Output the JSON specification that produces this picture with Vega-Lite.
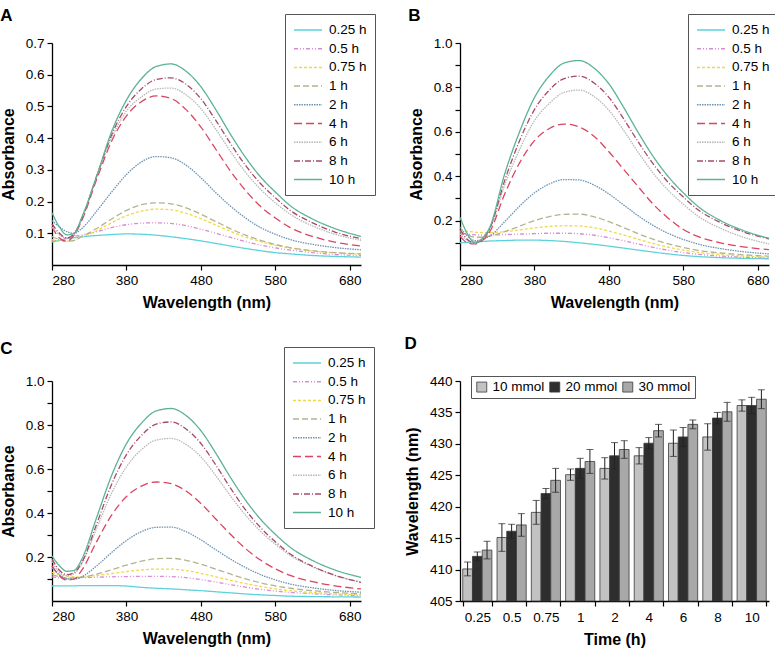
{
"$schema":"https://vega.github.io/schema/vega-lite/v6.json",
"padding":{"left":0,"top":6,"right":4,"bottom":0},
"config":{
"font":"Liberation Sans",
"view":{"stroke":null},
"axis":{"domainColor":"#000","tickColor":"#000","labelColor":"#000","titleColor":"#000","labelFontSize":13.5,"titleFontSize":16,"titleFontWeight":"bold","grid":false,"tickSize":5,"domainWidth":1.3,"tickWidth":1.2,"labelPadding":3,"labelOverlap":false},
"axisY":{"titlePadding":9},
"axisX":{"titlePadding":8},
"legend":{"labelFontSize":13.5,"labelColor":"#000","strokeColor":"#555","fillColor":"#fff","padding":8,"rowPadding":3.7,"labelOffset":6},
"title":{"fontSize":17,"fontWeight":"bold","anchor":"start","frame":"bounds","color":"#000","offset":-11}
},
"datasets":{
"A":[
{"s":"0.25 h","w":280,"a":0.072},{"s":"0.25 h","w":290,"a":0.078},{"s":"0.25 h","w":300,"a":0.083},{"s":"0.25 h","w":310,"a":0.086},{"s":"0.25 h","w":320,"a":0.089},{"s":"0.25 h","w":340,"a":0.093},{"s":"0.25 h","w":360,"a":0.096},{"s":"0.25 h","w":380,"a":0.098},{"s":"0.25 h","w":400,"a":0.097},{"s":"0.25 h","w":420,"a":0.094},{"s":"0.25 h","w":440,"a":0.089},{"s":"0.25 h","w":460,"a":0.083},{"s":"0.25 h","w":480,"a":0.076},{"s":"0.25 h","w":500,"a":0.068},{"s":"0.25 h","w":520,"a":0.06},{"s":"0.25 h","w":540,"a":0.052},{"s":"0.25 h","w":560,"a":0.045},{"s":"0.25 h","w":580,"a":0.039},{"s":"0.25 h","w":600,"a":0.035},{"s":"0.25 h","w":630,"a":0.03},{"s":"0.25 h","w":660,"a":0.027},{"s":"0.25 h","w":695,"a":0.025},
{"s":"0.5 h","w":280,"a":0.075},{"s":"0.5 h","w":290,"a":0.08},{"s":"0.5 h","w":300,"a":0.085},{"s":"0.5 h","w":310,"a":0.09},{"s":"0.5 h","w":320,"a":0.095},{"s":"0.5 h","w":340,"a":0.105},{"s":"0.5 h","w":360,"a":0.118},{"s":"0.5 h","w":380,"a":0.127},{"s":"0.5 h","w":400,"a":0.132},{"s":"0.5 h","w":420,"a":0.133},{"s":"0.5 h","w":440,"a":0.131},{"s":"0.5 h","w":460,"a":0.124},{"s":"0.5 h","w":480,"a":0.113},{"s":"0.5 h","w":500,"a":0.1},{"s":"0.5 h","w":520,"a":0.087},{"s":"0.5 h","w":540,"a":0.074},{"s":"0.5 h","w":560,"a":0.063},{"s":"0.5 h","w":580,"a":0.054},{"s":"0.5 h","w":600,"a":0.047},{"s":"0.5 h","w":630,"a":0.039},{"s":"0.5 h","w":660,"a":0.033},{"s":"0.5 h","w":695,"a":0.03},
{"s":"0.75 h","w":280,"a":0.08},{"s":"0.75 h","w":290,"a":0.075},{"s":"0.75 h","w":300,"a":0.075},{"s":"0.75 h","w":310,"a":0.078},{"s":"0.75 h","w":320,"a":0.088},{"s":"0.75 h","w":340,"a":0.108},{"s":"0.75 h","w":360,"a":0.133},{"s":"0.75 h","w":380,"a":0.155},{"s":"0.75 h","w":400,"a":0.17},{"s":"0.75 h","w":420,"a":0.176},{"s":"0.75 h","w":440,"a":0.174},{"s":"0.75 h","w":460,"a":0.163},{"s":"0.75 h","w":480,"a":0.146},{"s":"0.75 h","w":500,"a":0.126},{"s":"0.75 h","w":520,"a":0.106},{"s":"0.75 h","w":540,"a":0.088},{"s":"0.75 h","w":560,"a":0.074},{"s":"0.75 h","w":580,"a":0.062},{"s":"0.75 h","w":600,"a":0.053},{"s":"0.75 h","w":630,"a":0.044},{"s":"0.75 h","w":660,"a":0.038},{"s":"0.75 h","w":695,"a":0.034},
{"s":"1 h","w":280,"a":0.09},{"s":"1 h","w":290,"a":0.08},{"s":"1 h","w":300,"a":0.075},{"s":"1 h","w":310,"a":0.078},{"s":"1 h","w":320,"a":0.09},{"s":"1 h","w":340,"a":0.115},{"s":"1 h","w":360,"a":0.145},{"s":"1 h","w":380,"a":0.172},{"s":"1 h","w":400,"a":0.19},{"s":"1 h","w":420,"a":0.196},{"s":"1 h","w":440,"a":0.193},{"s":"1 h","w":460,"a":0.18},{"s":"1 h","w":480,"a":0.16},{"s":"1 h","w":500,"a":0.137},{"s":"1 h","w":520,"a":0.114},{"s":"1 h","w":540,"a":0.094},{"s":"1 h","w":560,"a":0.078},{"s":"1 h","w":580,"a":0.065},{"s":"1 h","w":600,"a":0.055},{"s":"1 h","w":630,"a":0.045},{"s":"1 h","w":660,"a":0.039},{"s":"1 h","w":695,"a":0.035},
{"s":"2 h","w":280,"a":0.14},{"s":"2 h","w":290,"a":0.12},{"s":"2 h","w":300,"a":0.105},{"s":"2 h","w":310,"a":0.1},{"s":"2 h","w":320,"a":0.115},{"s":"2 h","w":340,"a":0.17},{"s":"2 h","w":360,"a":0.23},{"s":"2 h","w":380,"a":0.285},{"s":"2 h","w":400,"a":0.325},{"s":"2 h","w":420,"a":0.342},{"s":"2 h","w":440,"a":0.338},{"s":"2 h","w":460,"a":0.315},{"s":"2 h","w":480,"a":0.275},{"s":"2 h","w":500,"a":0.228},{"s":"2 h","w":520,"a":0.185},{"s":"2 h","w":540,"a":0.148},{"s":"2 h","w":560,"a":0.118},{"s":"2 h","w":580,"a":0.097},{"s":"2 h","w":600,"a":0.08},{"s":"2 h","w":630,"a":0.065},{"s":"2 h","w":660,"a":0.055},{"s":"2 h","w":695,"a":0.048},
{"s":"4 h","w":280,"a":0.12},{"s":"4 h","w":290,"a":0.085},{"s":"4 h","w":300,"a":0.075},{"s":"4 h","w":310,"a":0.095},{"s":"4 h","w":320,"a":0.14},{"s":"4 h","w":340,"a":0.27},{"s":"4 h","w":360,"a":0.39},{"s":"4 h","w":380,"a":0.47},{"s":"4 h","w":400,"a":0.515},{"s":"4 h","w":420,"a":0.533},{"s":"4 h","w":440,"a":0.525},{"s":"4 h","w":460,"a":0.49},{"s":"4 h","w":480,"a":0.435},{"s":"4 h","w":500,"a":0.365},{"s":"4 h","w":520,"a":0.295},{"s":"4 h","w":540,"a":0.235},{"s":"4 h","w":560,"a":0.185},{"s":"4 h","w":580,"a":0.148},{"s":"4 h","w":600,"a":0.118},{"s":"4 h","w":630,"a":0.09},{"s":"4 h","w":660,"a":0.072},{"s":"4 h","w":695,"a":0.06},
{"s":"6 h","w":280,"a":0.12},{"s":"6 h","w":290,"a":0.095},{"s":"6 h","w":300,"a":0.085},{"s":"6 h","w":310,"a":0.1},{"s":"6 h","w":320,"a":0.145},{"s":"6 h","w":340,"a":0.28},{"s":"6 h","w":360,"a":0.4},{"s":"6 h","w":380,"a":0.485},{"s":"6 h","w":400,"a":0.53},{"s":"6 h","w":420,"a":0.555},{"s":"6 h","w":440,"a":0.558},{"s":"6 h","w":460,"a":0.537},{"s":"6 h","w":480,"a":0.493},{"s":"6 h","w":500,"a":0.428},{"s":"6 h","w":520,"a":0.357},{"s":"6 h","w":540,"a":0.292},{"s":"6 h","w":560,"a":0.239},{"s":"6 h","w":580,"a":0.196},{"s":"6 h","w":600,"a":0.16},{"s":"6 h","w":630,"a":0.123},{"s":"6 h","w":660,"a":0.097},{"s":"6 h","w":695,"a":0.078},
{"s":"8 h","w":280,"a":0.13},{"s":"8 h","w":290,"a":0.1},{"s":"8 h","w":300,"a":0.085},{"s":"8 h","w":310,"a":0.1},{"s":"8 h","w":320,"a":0.145},{"s":"8 h","w":340,"a":0.28},{"s":"8 h","w":360,"a":0.41},{"s":"8 h","w":380,"a":0.5},{"s":"8 h","w":400,"a":0.555},{"s":"8 h","w":420,"a":0.585},{"s":"8 h","w":440,"a":0.59},{"s":"8 h","w":460,"a":0.57},{"s":"8 h","w":480,"a":0.524},{"s":"8 h","w":500,"a":0.456},{"s":"8 h","w":520,"a":0.382},{"s":"8 h","w":540,"a":0.314},{"s":"8 h","w":560,"a":0.257},{"s":"8 h","w":580,"a":0.212},{"s":"8 h","w":600,"a":0.172},{"s":"8 h","w":630,"a":0.133},{"s":"8 h","w":660,"a":0.104},{"s":"8 h","w":695,"a":0.083},
{"s":"10 h","w":280,"a":0.165},{"s":"10 h","w":290,"a":0.12},{"s":"10 h","w":300,"a":0.095},{"s":"10 h","w":310,"a":0.1},{"s":"10 h","w":320,"a":0.15},{"s":"10 h","w":340,"a":0.28},{"s":"10 h","w":360,"a":0.42},{"s":"10 h","w":380,"a":0.52},{"s":"10 h","w":400,"a":0.587},{"s":"10 h","w":420,"a":0.626},{"s":"10 h","w":440,"a":0.634},{"s":"10 h","w":460,"a":0.611},{"s":"10 h","w":480,"a":0.562},{"s":"10 h","w":500,"a":0.49},{"s":"10 h","w":520,"a":0.411},{"s":"10 h","w":540,"a":0.339},{"s":"10 h","w":560,"a":0.278},{"s":"10 h","w":580,"a":0.23},{"s":"10 h","w":600,"a":0.187},{"s":"10 h","w":630,"a":0.145},{"s":"10 h","w":660,"a":0.115},{"s":"10 h","w":695,"a":0.09}
],
"B":[
{"s":"0.25 h","w":280,"a":0.1},{"s":"0.25 h","w":290,"a":0.102},{"s":"0.25 h","w":300,"a":0.104},{"s":"0.25 h","w":310,"a":0.106},{"s":"0.25 h","w":320,"a":0.108},{"s":"0.25 h","w":340,"a":0.11},{"s":"0.25 h","w":360,"a":0.112},{"s":"0.25 h","w":380,"a":0.112},{"s":"0.25 h","w":400,"a":0.11},{"s":"0.25 h","w":420,"a":0.106},{"s":"0.25 h","w":440,"a":0.1},{"s":"0.25 h","w":460,"a":0.093},{"s":"0.25 h","w":480,"a":0.085},{"s":"0.25 h","w":500,"a":0.076},{"s":"0.25 h","w":520,"a":0.067},{"s":"0.25 h","w":540,"a":0.058},{"s":"0.25 h","w":560,"a":0.05},{"s":"0.25 h","w":580,"a":0.043},{"s":"0.25 h","w":600,"a":0.038},{"s":"0.25 h","w":630,"a":0.033},{"s":"0.25 h","w":660,"a":0.03},{"s":"0.25 h","w":695,"a":0.028},
{"s":"0.5 h","w":280,"a":0.14},{"s":"0.5 h","w":290,"a":0.138},{"s":"0.5 h","w":300,"a":0.136},{"s":"0.5 h","w":310,"a":0.135},{"s":"0.5 h","w":320,"a":0.135},{"s":"0.5 h","w":340,"a":0.137},{"s":"0.5 h","w":360,"a":0.139},{"s":"0.5 h","w":380,"a":0.141},{"s":"0.5 h","w":400,"a":0.143},{"s":"0.5 h","w":420,"a":0.143},{"s":"0.5 h","w":440,"a":0.141},{"s":"0.5 h","w":460,"a":0.134},{"s":"0.5 h","w":480,"a":0.123},{"s":"0.5 h","w":500,"a":0.109},{"s":"0.5 h","w":520,"a":0.094},{"s":"0.5 h","w":540,"a":0.079},{"s":"0.5 h","w":560,"a":0.066},{"s":"0.5 h","w":580,"a":0.056},{"s":"0.5 h","w":600,"a":0.048},{"s":"0.5 h","w":630,"a":0.04},{"s":"0.5 h","w":660,"a":0.035},{"s":"0.5 h","w":695,"a":0.031},
{"s":"0.75 h","w":280,"a":0.155},{"s":"0.75 h","w":290,"a":0.152},{"s":"0.75 h","w":300,"a":0.148},{"s":"0.75 h","w":310,"a":0.146},{"s":"0.75 h","w":320,"a":0.146},{"s":"0.75 h","w":340,"a":0.15},{"s":"0.75 h","w":360,"a":0.158},{"s":"0.75 h","w":380,"a":0.167},{"s":"0.75 h","w":400,"a":0.174},{"s":"0.75 h","w":420,"a":0.177},{"s":"0.75 h","w":440,"a":0.176},{"s":"0.75 h","w":460,"a":0.168},{"s":"0.75 h","w":480,"a":0.153},{"s":"0.75 h","w":500,"a":0.135},{"s":"0.75 h","w":520,"a":0.115},{"s":"0.75 h","w":540,"a":0.096},{"s":"0.75 h","w":560,"a":0.08},{"s":"0.75 h","w":580,"a":0.067},{"s":"0.75 h","w":600,"a":0.057},{"s":"0.75 h","w":630,"a":0.047},{"s":"0.75 h","w":660,"a":0.04},{"s":"0.75 h","w":695,"a":0.035},
{"s":"1 h","w":280,"a":0.15},{"s":"1 h","w":290,"a":0.135},{"s":"1 h","w":300,"a":0.125},{"s":"1 h","w":310,"a":0.125},{"s":"1 h","w":320,"a":0.13},{"s":"1 h","w":340,"a":0.15},{"s":"1 h","w":360,"a":0.175},{"s":"1 h","w":380,"a":0.2},{"s":"1 h","w":400,"a":0.218},{"s":"1 h","w":420,"a":0.228},{"s":"1 h","w":440,"a":0.229},{"s":"1 h","w":460,"a":0.217},{"s":"1 h","w":480,"a":0.195},{"s":"1 h","w":500,"a":0.168},{"s":"1 h","w":520,"a":0.14},{"s":"1 h","w":540,"a":0.115},{"s":"1 h","w":560,"a":0.095},{"s":"1 h","w":580,"a":0.079},{"s":"1 h","w":600,"a":0.066},{"s":"1 h","w":630,"a":0.054},{"s":"1 h","w":660,"a":0.046},{"s":"1 h","w":695,"a":0.04},
{"s":"2 h","w":280,"a":0.17},{"s":"2 h","w":290,"a":0.13},{"s":"2 h","w":300,"a":0.11},{"s":"2 h","w":310,"a":0.115},{"s":"2 h","w":320,"a":0.13},{"s":"2 h","w":340,"a":0.195},{"s":"2 h","w":360,"a":0.265},{"s":"2 h","w":380,"a":0.325},{"s":"2 h","w":400,"a":0.365},{"s":"2 h","w":420,"a":0.385},{"s":"2 h","w":440,"a":0.383},{"s":"2 h","w":460,"a":0.36},{"s":"2 h","w":480,"a":0.32},{"s":"2 h","w":500,"a":0.27},{"s":"2 h","w":520,"a":0.22},{"s":"2 h","w":540,"a":0.177},{"s":"2 h","w":560,"a":0.142},{"s":"2 h","w":580,"a":0.115},{"s":"2 h","w":600,"a":0.094},{"s":"2 h","w":630,"a":0.074},{"s":"2 h","w":660,"a":0.06},{"s":"2 h","w":695,"a":0.05},
{"s":"4 h","w":280,"a":0.13},{"s":"4 h","w":290,"a":0.1},{"s":"4 h","w":300,"a":0.095},{"s":"4 h","w":310,"a":0.11},{"s":"4 h","w":320,"a":0.15},{"s":"4 h","w":340,"a":0.32},{"s":"4 h","w":360,"a":0.46},{"s":"4 h","w":380,"a":0.56},{"s":"4 h","w":400,"a":0.615},{"s":"4 h","w":420,"a":0.635},{"s":"4 h","w":440,"a":0.622},{"s":"4 h","w":460,"a":0.58},{"s":"4 h","w":480,"a":0.51},{"s":"4 h","w":500,"a":0.43},{"s":"4 h","w":520,"a":0.35},{"s":"4 h","w":540,"a":0.272},{"s":"4 h","w":560,"a":0.21},{"s":"4 h","w":580,"a":0.16},{"s":"4 h","w":600,"a":0.128},{"s":"4 h","w":630,"a":0.1},{"s":"4 h","w":660,"a":0.082},{"s":"4 h","w":695,"a":0.069},
{"s":"6 h","w":280,"a":0.14},{"s":"6 h","w":290,"a":0.11},{"s":"6 h","w":300,"a":0.1},{"s":"6 h","w":310,"a":0.115},{"s":"6 h","w":320,"a":0.16},{"s":"6 h","w":340,"a":0.36},{"s":"6 h","w":360,"a":0.52},{"s":"6 h","w":380,"a":0.65},{"s":"6 h","w":400,"a":0.728},{"s":"6 h","w":420,"a":0.778},{"s":"6 h","w":440,"a":0.788},{"s":"6 h","w":460,"a":0.759},{"s":"6 h","w":480,"a":0.697},{"s":"6 h","w":500,"a":0.605},{"s":"6 h","w":520,"a":0.504},{"s":"6 h","w":540,"a":0.412},{"s":"6 h","w":560,"a":0.335},{"s":"6 h","w":580,"a":0.273},{"s":"6 h","w":600,"a":0.219},{"s":"6 h","w":630,"a":0.165},{"s":"6 h","w":660,"a":0.126},{"s":"6 h","w":695,"a":0.095},
{"s":"8 h","w":280,"a":0.16},{"s":"8 h","w":290,"a":0.115},{"s":"8 h","w":300,"a":0.1},{"s":"8 h","w":310,"a":0.115},{"s":"8 h","w":320,"a":0.165},{"s":"8 h","w":340,"a":0.38},{"s":"8 h","w":360,"a":0.56},{"s":"8 h","w":380,"a":0.7},{"s":"8 h","w":400,"a":0.788},{"s":"8 h","w":420,"a":0.84},{"s":"8 h","w":440,"a":0.851},{"s":"8 h","w":460,"a":0.82},{"s":"8 h","w":480,"a":0.755},{"s":"8 h","w":500,"a":0.657},{"s":"8 h","w":520,"a":0.551},{"s":"8 h","w":540,"a":0.453},{"s":"8 h","w":560,"a":0.371},{"s":"8 h","w":580,"a":0.306},{"s":"8 h","w":600,"a":0.248},{"s":"8 h","w":630,"a":0.191},{"s":"8 h","w":660,"a":0.15},{"s":"8 h","w":695,"a":0.118},
{"s":"10 h","w":280,"a":0.215},{"s":"10 h","w":290,"a":0.14},{"s":"10 h","w":300,"a":0.1},{"s":"10 h","w":310,"a":0.12},{"s":"10 h","w":320,"a":0.17},{"s":"10 h","w":340,"a":0.41},{"s":"10 h","w":360,"a":0.6},{"s":"10 h","w":380,"a":0.754},{"s":"10 h","w":400,"a":0.852},{"s":"10 h","w":420,"a":0.91},{"s":"10 h","w":440,"a":0.921},{"s":"10 h","w":460,"a":0.887},{"s":"10 h","w":480,"a":0.816},{"s":"10 h","w":500,"a":0.709},{"s":"10 h","w":520,"a":0.593},{"s":"10 h","w":540,"a":0.486},{"s":"10 h","w":560,"a":0.397},{"s":"10 h","w":580,"a":0.325},{"s":"10 h","w":600,"a":0.263},{"s":"10 h","w":630,"a":0.2},{"s":"10 h","w":660,"a":0.156},{"s":"10 h","w":695,"a":0.12}
],
"C":[
{"s":"0.25 h","w":280,"a":0.068},{"s":"0.25 h","w":290,"a":0.069},{"s":"0.25 h","w":300,"a":0.069},{"s":"0.25 h","w":310,"a":0.069},{"s":"0.25 h","w":320,"a":0.07},{"s":"0.25 h","w":340,"a":0.07},{"s":"0.25 h","w":360,"a":0.07},{"s":"0.25 h","w":380,"a":0.068},{"s":"0.25 h","w":400,"a":0.062},{"s":"0.25 h","w":420,"a":0.058},{"s":"0.25 h","w":440,"a":0.055},{"s":"0.25 h","w":460,"a":0.051},{"s":"0.25 h","w":480,"a":0.047},{"s":"0.25 h","w":500,"a":0.042},{"s":"0.25 h","w":520,"a":0.037},{"s":"0.25 h","w":540,"a":0.032},{"s":"0.25 h","w":560,"a":0.028},{"s":"0.25 h","w":580,"a":0.025},{"s":"0.25 h","w":600,"a":0.022},{"s":"0.25 h","w":630,"a":0.02},{"s":"0.25 h","w":660,"a":0.019},{"s":"0.25 h","w":695,"a":0.018},
{"s":"0.5 h","w":280,"a":0.11},{"s":"0.5 h","w":290,"a":0.105},{"s":"0.5 h","w":300,"a":0.102},{"s":"0.5 h","w":310,"a":0.104},{"s":"0.5 h","w":320,"a":0.106},{"s":"0.5 h","w":340,"a":0.108},{"s":"0.5 h","w":360,"a":0.11},{"s":"0.5 h","w":380,"a":0.111},{"s":"0.5 h","w":400,"a":0.112},{"s":"0.5 h","w":420,"a":0.112},{"s":"0.5 h","w":440,"a":0.111},{"s":"0.5 h","w":460,"a":0.106},{"s":"0.5 h","w":480,"a":0.097},{"s":"0.5 h","w":500,"a":0.086},{"s":"0.5 h","w":520,"a":0.074},{"s":"0.5 h","w":540,"a":0.063},{"s":"0.5 h","w":560,"a":0.053},{"s":"0.5 h","w":580,"a":0.045},{"s":"0.5 h","w":600,"a":0.039},{"s":"0.5 h","w":630,"a":0.033},{"s":"0.5 h","w":660,"a":0.028},{"s":"0.5 h","w":695,"a":0.025},
{"s":"0.75 h","w":280,"a":0.13},{"s":"0.75 h","w":290,"a":0.12},{"s":"0.75 h","w":300,"a":0.112},{"s":"0.75 h","w":310,"a":0.11},{"s":"0.75 h","w":320,"a":0.11},{"s":"0.75 h","w":340,"a":0.116},{"s":"0.75 h","w":360,"a":0.125},{"s":"0.75 h","w":380,"a":0.134},{"s":"0.75 h","w":400,"a":0.141},{"s":"0.75 h","w":420,"a":0.145},{"s":"0.75 h","w":440,"a":0.145},{"s":"0.75 h","w":460,"a":0.138},{"s":"0.75 h","w":480,"a":0.126},{"s":"0.75 h","w":500,"a":0.11},{"s":"0.75 h","w":520,"a":0.094},{"s":"0.75 h","w":540,"a":0.079},{"s":"0.75 h","w":560,"a":0.066},{"s":"0.75 h","w":580,"a":0.055},{"s":"0.75 h","w":600,"a":0.047},{"s":"0.75 h","w":630,"a":0.039},{"s":"0.75 h","w":660,"a":0.033},{"s":"0.75 h","w":695,"a":0.028},
{"s":"1 h","w":280,"a":0.12},{"s":"1 h","w":290,"a":0.11},{"s":"1 h","w":300,"a":0.105},{"s":"1 h","w":310,"a":0.105},{"s":"1 h","w":320,"a":0.108},{"s":"1 h","w":340,"a":0.122},{"s":"1 h","w":360,"a":0.142},{"s":"1 h","w":380,"a":0.163},{"s":"1 h","w":400,"a":0.181},{"s":"1 h","w":420,"a":0.192},{"s":"1 h","w":440,"a":0.194},{"s":"1 h","w":460,"a":0.185},{"s":"1 h","w":480,"a":0.167},{"s":"1 h","w":500,"a":0.145},{"s":"1 h","w":520,"a":0.122},{"s":"1 h","w":540,"a":0.101},{"s":"1 h","w":560,"a":0.083},{"s":"1 h","w":580,"a":0.069},{"s":"1 h","w":600,"a":0.058},{"s":"1 h","w":630,"a":0.047},{"s":"1 h","w":660,"a":0.039},{"s":"1 h","w":695,"a":0.033},
{"s":"2 h","w":280,"a":0.15},{"s":"2 h","w":290,"a":0.12},{"s":"2 h","w":300,"a":0.1},{"s":"2 h","w":310,"a":0.1},{"s":"2 h","w":320,"a":0.11},{"s":"2 h","w":340,"a":0.16},{"s":"2 h","w":360,"a":0.22},{"s":"2 h","w":380,"a":0.275},{"s":"2 h","w":400,"a":0.315},{"s":"2 h","w":420,"a":0.335},{"s":"2 h","w":440,"a":0.336},{"s":"2 h","w":460,"a":0.315},{"s":"2 h","w":480,"a":0.278},{"s":"2 h","w":500,"a":0.233},{"s":"2 h","w":520,"a":0.19},{"s":"2 h","w":540,"a":0.152},{"s":"2 h","w":560,"a":0.12},{"s":"2 h","w":580,"a":0.096},{"s":"2 h","w":600,"a":0.077},{"s":"2 h","w":630,"a":0.06},{"s":"2 h","w":660,"a":0.048},{"s":"2 h","w":695,"a":0.04},
{"s":"4 h","w":280,"a":0.16},{"s":"4 h","w":290,"a":0.115},{"s":"4 h","w":300,"a":0.095},{"s":"4 h","w":310,"a":0.1},{"s":"4 h","w":320,"a":0.14},{"s":"4 h","w":340,"a":0.27},{"s":"4 h","w":360,"a":0.39},{"s":"4 h","w":380,"a":0.475},{"s":"4 h","w":400,"a":0.522},{"s":"4 h","w":420,"a":0.541},{"s":"4 h","w":440,"a":0.533},{"s":"4 h","w":460,"a":0.5},{"s":"4 h","w":480,"a":0.443},{"s":"4 h","w":500,"a":0.373},{"s":"4 h","w":520,"a":0.302},{"s":"4 h","w":540,"a":0.238},{"s":"4 h","w":560,"a":0.186},{"s":"4 h","w":580,"a":0.146},{"s":"4 h","w":600,"a":0.116},{"s":"4 h","w":630,"a":0.088},{"s":"4 h","w":660,"a":0.069},{"s":"4 h","w":695,"a":0.055},
{"s":"6 h","w":280,"a":0.18},{"s":"6 h","w":290,"a":0.13},{"s":"6 h","w":300,"a":0.115},{"s":"6 h","w":310,"a":0.125},{"s":"6 h","w":320,"a":0.17},{"s":"6 h","w":340,"a":0.33},{"s":"6 h","w":360,"a":0.49},{"s":"6 h","w":380,"a":0.61},{"s":"6 h","w":400,"a":0.688},{"s":"6 h","w":420,"a":0.732},{"s":"6 h","w":440,"a":0.739},{"s":"6 h","w":460,"a":0.712},{"s":"6 h","w":480,"a":0.655},{"s":"6 h","w":500,"a":0.57},{"s":"6 h","w":520,"a":0.476},{"s":"6 h","w":540,"a":0.39},{"s":"6 h","w":560,"a":0.317},{"s":"6 h","w":580,"a":0.258},{"s":"6 h","w":600,"a":0.207},{"s":"6 h","w":630,"a":0.155},{"s":"6 h","w":660,"a":0.116},{"s":"6 h","w":695,"a":0.085},
{"s":"8 h","w":280,"a":0.19},{"s":"8 h","w":290,"a":0.14},{"s":"8 h","w":300,"a":0.12},{"s":"8 h","w":310,"a":0.13},{"s":"8 h","w":320,"a":0.175},{"s":"8 h","w":340,"a":0.35},{"s":"8 h","w":360,"a":0.53},{"s":"8 h","w":380,"a":0.665},{"s":"8 h","w":400,"a":0.752},{"s":"8 h","w":420,"a":0.804},{"s":"8 h","w":440,"a":0.814},{"s":"8 h","w":460,"a":0.782},{"s":"8 h","w":480,"a":0.716},{"s":"8 h","w":500,"a":0.618},{"s":"8 h","w":520,"a":0.512},{"s":"8 h","w":540,"a":0.414},{"s":"8 h","w":560,"a":0.334},{"s":"8 h","w":580,"a":0.269},{"s":"8 h","w":600,"a":0.214},{"s":"8 h","w":630,"a":0.158},{"s":"8 h","w":660,"a":0.117},{"s":"8 h","w":695,"a":0.085},
{"s":"10 h","w":280,"a":0.205},{"s":"10 h","w":290,"a":0.16},{"s":"10 h","w":300,"a":0.135},{"s":"10 h","w":310,"a":0.14},{"s":"10 h","w":320,"a":0.19},{"s":"10 h","w":340,"a":0.38},{"s":"10 h","w":360,"a":0.57},{"s":"10 h","w":380,"a":0.715},{"s":"10 h","w":400,"a":0.808},{"s":"10 h","w":420,"a":0.864},{"s":"10 h","w":440,"a":0.875},{"s":"10 h","w":460,"a":0.843},{"s":"10 h","w":480,"a":0.774},{"s":"10 h","w":500,"a":0.672},{"s":"10 h","w":520,"a":0.56},{"s":"10 h","w":540,"a":0.458},{"s":"10 h","w":560,"a":0.372},{"s":"10 h","w":580,"a":0.303},{"s":"10 h","w":600,"a":0.244},{"s":"10 h","w":630,"a":0.184},{"s":"10 h","w":660,"a":0.141},{"s":"10 h","w":695,"a":0.107}
],
"D":[
{"t":"0.25","c":"10 mmol","v":410.1,"lo":409,"hi":411.2},{"t":"0.25","c":"20 mmol","v":412.1,"lo":411.4,"hi":412.8},{"t":"0.25","c":"30 mmol","v":413.1,"lo":411.7,"hi":414.5},
{"t":"0.5","c":"10 mmol","v":415.1,"lo":412.9,"hi":417.3},{"t":"0.5","c":"20 mmol","v":416.1,"lo":415,"hi":417.2},{"t":"0.5","c":"30 mmol","v":417.1,"lo":415.3,"hi":418.9},
{"t":"0.75","c":"10 mmol","v":419.1,"lo":417.2,"hi":421},{"t":"0.75","c":"20 mmol","v":422.1,"lo":421.3,"hi":422.9},{"t":"0.75","c":"30 mmol","v":424.2,"lo":422.3,"hi":426.1},
{"t":"1","c":"10 mmol","v":425.1,"lo":424.2,"hi":426},{"t":"1","c":"20 mmol","v":426.1,"lo":424.5,"hi":427.7},{"t":"1","c":"30 mmol","v":427.2,"lo":425.3,"hi":429.1},
{"t":"2","c":"10 mmol","v":426.1,"lo":424.4,"hi":427.8},{"t":"2","c":"20 mmol","v":428.1,"lo":426,"hi":430.2},{"t":"2","c":"30 mmol","v":429.1,"lo":427.7,"hi":430.5},
{"t":"4","c":"10 mmol","v":428.1,"lo":426.8,"hi":429.4},{"t":"4","c":"20 mmol","v":430.1,"lo":429.2,"hi":431},{"t":"4","c":"30 mmol","v":432.1,"lo":431.1,"hi":433.1},
{"t":"6","c":"10 mmol","v":430.1,"lo":428,"hi":432.2},{"t":"6","c":"20 mmol","v":431.1,"lo":429.6,"hi":432.6},{"t":"6","c":"30 mmol","v":433.1,"lo":432.4,"hi":433.8},
{"t":"8","c":"10 mmol","v":431.1,"lo":429,"hi":433.2},{"t":"8","c":"20 mmol","v":434.1,"lo":433.2,"hi":435},{"t":"8","c":"30 mmol","v":435.1,"lo":433.6,"hi":436.6},
{"t":"10","c":"10 mmol","v":436.1,"lo":435.2,"hi":437},{"t":"10","c":"20 mmol","v":436.1,"lo":434.8,"hi":437.4},{"t":"10","c":"30 mmol","v":437.1,"lo":435.6,"hi":438.6}
]
},
"columns":2,
"spacing":{"row":116,"column":99},
"bounds":"flush",
"resolve":{"scale":{"color":"independent","strokeDash":"independent","fill":"independent","x":"independent","y":"independent"},"legend":{"color":"independent","strokeDash":"independent","fill":"independent"},"axis":{"x":"independent","y":"independent"}},
"concat":[
{"title":{"text":"A"},"width":309,"height":222,"data":{"name":"A"},
"mark":{"type":"line","interpolate":"monotone","strokeWidth":1.3},
"encoding":{
"x":{"field":"w","type":"quantitative","scale":{"domain":[280,695],"nice":false,"zero":false},"axis":{"values":[280,380,480,580,680],"title":"Wavelength (nm)"}},
"y":{"field":"a","type":"quantitative","scale":{"domain":[0,0.7],"nice":false},"axis":{"values":[0.1,0.2,0.3,0.4,0.5,0.6,0.7],"format":".1f","title":"Absorbance"}},
"color":{"field":"s","type":"nominal","scale":{"domain":["0.25 h","0.5 h","0.75 h","1 h","2 h","4 h","6 h","8 h","10 h"],"range":["#5dd2dc","#d98bd3","#efd94a","#b2b48e","#6d93b3","#d9455f","#b8b8b8","#a64a68","#5bb394"]},"legend":{"title":null,"orient":"none","legendX":233,"legendY":-29,"symbolType":"M-2,0H2","symbolSize":196,"symbolStrokeWidth":1.5,"symbolOffset":7,"labelOffset":13}},
"strokeDash":{"field":"s","type":"nominal","scale":{"domain":["0.25 h","0.5 h","0.75 h","1 h","2 h","4 h","6 h","8 h","10 h"],"range":[[1,0],[4,2,1,2,1,2],[3,2],[6,3],[1.5,1],[8,4],[1.5,1],[6,2,1,2],[1,0]]},"legend":{"title":null,"orient":"none","legendX":233,"legendY":-29,"symbolType":"M-2,0H2","symbolSize":196,"symbolStrokeWidth":1.5,"symbolOffset":7,"labelOffset":13}}
}},
{"title":{"text":"B"},"width":309,"height":222,"data":{"name":"B"},
"mark":{"type":"line","interpolate":"monotone","strokeWidth":1.3},
"encoding":{
"x":{"field":"w","type":"quantitative","scale":{"domain":[280,695],"nice":false,"zero":false},"axis":{"values":[280,380,480,580,680],"title":"Wavelength (nm)"}},
"y":{"field":"a","type":"quantitative","scale":{"domain":[0,1],"nice":false},"axis":{"values":[0.1,0.2,0.3,0.4,0.5,0.6,0.7,0.8,0.9,1.0],"labelExpr":"round(datum.value*10) % 2 == 0 ? format(datum.value, '.1f') : ''","title":"Absorbance"}},
"color":{"field":"s","type":"nominal","scale":{"domain":["0.25 h","0.5 h","0.75 h","1 h","2 h","4 h","6 h","8 h","10 h"],"range":["#5dd2dc","#d98bd3","#efd94a","#b2b48e","#6d93b3","#d9455f","#b8b8b8","#a64a68","#5bb394"]},"legend":{"title":null,"orient":"none","legendX":228,"legendY":-29,"symbolType":"M-2,0H2","symbolSize":196,"symbolStrokeWidth":1.5,"symbolOffset":7,"labelOffset":13}},
"strokeDash":{"field":"s","type":"nominal","scale":{"domain":["0.25 h","0.5 h","0.75 h","1 h","2 h","4 h","6 h","8 h","10 h"],"range":[[1,0],[4,2,1,2,1,2],[3,2],[6,3],[1.5,1],[8,4],[1.5,1],[6,2,1,2],[1,0]]},"legend":{"title":null,"orient":"none","legendX":228,"legendY":-29,"symbolType":"M-2,0H2","symbolSize":196,"symbolStrokeWidth":1.5,"symbolOffset":7,"labelOffset":13}}
}},
{"title":{"text":"C"},"width":309,"height":220,"data":{"name":"C"},
"mark":{"type":"line","interpolate":"monotone","strokeWidth":1.3},
"encoding":{
"x":{"field":"w","type":"quantitative","scale":{"domain":[280,695],"nice":false,"zero":false},"axis":{"values":[280,380,480,580,680],"title":"Wavelength (nm)"}},
"y":{"field":"a","type":"quantitative","scale":{"domain":[0,1],"nice":false},"axis":{"values":[0.1,0.2,0.3,0.4,0.5,0.6,0.7,0.8,0.9,1.0],"labelExpr":"round(datum.value*10) % 2 == 0 ? format(datum.value, '.1f') : ''","title":"Absorbance"}},
"color":{"field":"s","type":"nominal","scale":{"domain":["0.25 h","0.5 h","0.75 h","1 h","2 h","4 h","6 h","8 h","10 h"],"range":["#5dd2dc","#d98bd3","#efd94a","#b2b48e","#6d93b3","#d9455f","#b8b8b8","#a64a68","#5bb394"]},"legend":{"title":null,"orient":"none","legendX":232,"legendY":-34,"symbolType":"M-2,0H2","symbolSize":196,"symbolStrokeWidth":1.5,"symbolOffset":7,"labelOffset":13}},
"strokeDash":{"field":"s","type":"nominal","scale":{"domain":["0.25 h","0.5 h","0.75 h","1 h","2 h","4 h","6 h","8 h","10 h"],"range":[[1,0],[4,2,1,2,1,2],[3,2],[6,3],[1.5,1],[8,4],[1.5,1],[6,2,1,2],[1,0]]},"legend":{"title":null,"orient":"none","legendX":232,"legendY":-34,"symbolType":"M-2,0H2","symbolSize":196,"symbolStrokeWidth":1.5,"symbolOffset":7,"labelOffset":13}}
}},
{"title":{"text":"D","offset":21},"width":309,"height":220,"data":{"name":"D"},
"encoding":{
"x":{"field":"t","type":"nominal","sort":["0.25","0.5","0.75","1","2","4","6","8","10"],"scale":{"paddingInner":0.15,"paddingOuter":0.08},"axis":{"title":"Time (h)","labelAngle":0,"tickBand":"extent","labelPadding":4}},
"xOffset":{"field":"c","type":"nominal","sort":["10 mmol","20 mmol","30 mmol"]}
},
"layer":[
{"mark":{"type":"bar","stroke":"#3a3a3a","strokeWidth":0.8},
"encoding":{
"y":{"field":"v","type":"quantitative","scale":{"domain":[405,440],"nice":false,"zero":false},"axis":{"values":[405,410,415,420,425,430,435,440],"format":"d","title":"Wavelength (nm)","labelOverlap":false,"labelFlush":false}},
"y2":{"datum":405},
"fill":{"field":"c","type":"nominal","scale":{"domain":["10 mmol","20 mmol","30 mmol"],"range":["#c2c2c2","#2e2e2e","#a8a8a8"]},"legend":{"title":null,"orient":"none","direction":"horizontal","legendX":11,"legendY":-5,"symbolType":"square","symbolSize":100,"symbolStrokeColor":"#3a3a3a","symbolStrokeWidth":0.8,"padding":4,"columnPadding":3,"labelOffset":4}}
}},
{"mark":{"type":"rule","color":"#222","strokeWidth":1},"encoding":{"y":{"field":"lo","type":"quantitative","axis":{"values":[405,410,415,420,425,430,435,440],"format":"d","title":"Wavelength (nm)","labelOverlap":false,"labelFlush":false}},"y2":{"field":"hi"}}},
{"mark":{"type":"tick","color":"#222","size":7,"thickness":1},"encoding":{"y":{"field":"hi","type":"quantitative","axis":{"values":[405,410,415,420,425,430,435,440],"format":"d","title":"Wavelength (nm)","labelOverlap":false,"labelFlush":false}}}},
{"mark":{"type":"tick","color":"#222","size":7,"thickness":1},"encoding":{"y":{"field":"lo","type":"quantitative","axis":{"values":[405,410,415,420,425,430,435,440],"format":"d","title":"Wavelength (nm)","labelOverlap":false,"labelFlush":false}}}}
]}
]
}
